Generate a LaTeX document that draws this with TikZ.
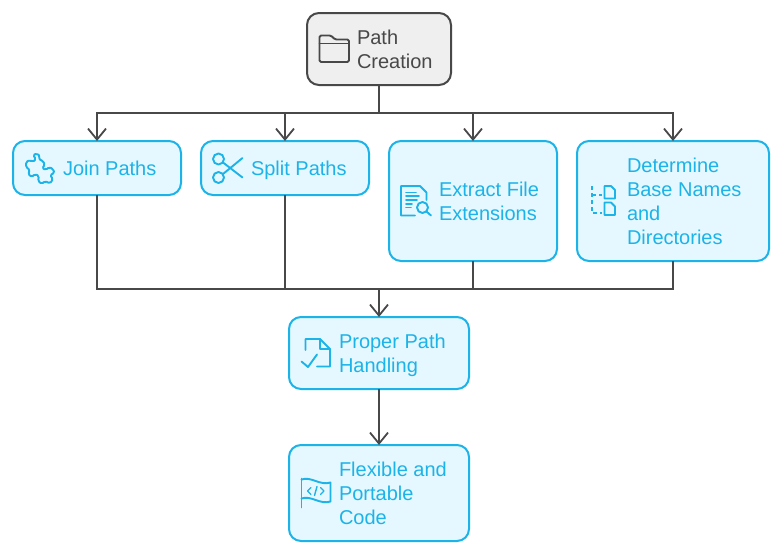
\documentclass[tikz,border=0pt]{standalone}
\usepackage{fontspec}
\setmainfont{Liberation Sans}
\usetikzlibrary{arrows.meta,positioning}
\definecolor{skyline}{HTML}{1CB3E8}
\definecolor{skyfill}{HTML}{E5F8FF}
\definecolor{rootline}{HTML}{484848}
\definecolor{rootfill}{HTML}{EFEFEF}

\begin{document}
\begin{tikzpicture}[x=1pt,y=-1pt,
		every node/.style={inner sep=0pt,outer sep=0pt},
		stepbox/.style={draw=skyline,fill=skyfill,line width=2pt,rounded corners=12pt},
		rootbox/.style={draw=rootline,fill=rootfill,line width=2pt,rounded corners=12pt},
		steptext/.style={text=skyline,align=left,yshift=-3.5pt,font=\fontsize{20}{24}\selectfont,execute at begin node=\strut,execute at end node=\strut},
		roottext/.style={text=rootline,align=left,yshift=-3.5pt,font=\fontsize{20}{24}\selectfont,execute at begin node=\strut,execute at end node=\strut},
		conn/.style={draw=rootline,line width=2pt},
		arr/.style={conn,-{Straight Barb[length=11pt,width=18pt,line width=1.8pt]}},
		icon/.style={draw=skyline,line width=1.9pt,line join=round,line cap=round},
		rooticon/.style={draw=rootline,line width=1.9pt,line join=round,line cap=round}]
		  \useasboundingbox (0,0) rectangle (782,554);

		  \node[rootbox,minimum width=144pt,minimum height=72pt] (PathCreation) at (379,49) {};
		  \node[stepbox,minimum width=168pt,minimum height=54pt] (JoinPaths)    at (97,168) {};
		  \node[stepbox,minimum width=168pt,minimum height=54pt] (SplitPaths)   at (285,168) {};
		  \node[stepbox,minimum width=168pt,minimum height=120pt](ExtractExt)   at (473,201) {};
		  \node[stepbox,minimum width=192pt,minimum height=120pt](BaseNames)    at (673,201) {};
		  \node[stepbox,minimum width=180pt,minimum height=72pt] (ProperPath)   at (379,353) {};
		  \node[stepbox,minimum width=180pt,minimum height=96pt] (Flexible)     at (379,493) {};

		  \node[roottext,right=50pt of PathCreation.west] (PathCreationText) {Path\\Creation};
		  \node[steptext,right=50pt of JoinPaths.west,yshift=1pt]  (JoinPathsText)  {Join Paths};
		  \node[steptext,right=50pt of SplitPaths.west,yshift=1pt] (SplitPathsText) {Split Paths};
		  \node[steptext,right=50pt of ExtractExt.west]   (ExtractExtText)   {Extract File\\Extensions};
		  \node[steptext,right=50pt of BaseNames.west]    (BaseNamesText)    {Determine\\Base Names\\and\\Directories};
		  \node[steptext,right=50pt of ProperPath.west]   (ProperPathText)   {Proper Path\\Handling};
		  \node[steptext,right=50pt of Flexible.west]     (FlexibleText)     {Flexible and\\Portable\\Code};

		  \coordinate (BusTop) at (379,113);
		  \coordinate (BusLow) at (379,289);

		  \draw[conn] (PathCreation.south) -- (BusTop);
		  \draw[arr] (BusTop) -| (JoinPaths.north);
		  \draw[arr] (BusTop) -| (SplitPaths.north);
		  \draw[arr] (BusTop) -| (ExtractExt.north);
		  \draw[arr] (BusTop) -| (BaseNames.north);
		  \draw[conn] (JoinPaths.south) |- (BusLow);
		  \draw[conn] (SplitPaths.south) |- (BusLow);
		  \draw[conn] (ExtractExt.south) |- (BusLow);
		  \draw[conn] (BaseNames.south) |- (BusLow);
		  \draw[arr] (BusLow) -- (ProperPath.north);
		  \draw[arr] (ProperPath.south) -- (Flexible.north);

		  % folder
		  \draw[rooticon,rounded corners=1.5pt] (319.5,62) -- (319.5,35.5) -- (331,35.5) -- (335,39.5) -- (349,39.5) -- (349,62) -- cycle;
		  \draw[rooticon] (319.5,43.5) -- (349,43.5);

		  % puzzle piece
		  \draw[icon,rounded corners=1.6pt] (33,155) -- (37,153.5) -- (40,156) -- (38.5,159) -- (43,161) -- (45,165) -- (42,168)
		    -- (46,170) -- (49,167) -- (53,169) -- (54.5,173) -- (50,175) -- (53,179) -- (50,183.5) -- (45,181)
		    -- (42,184) -- (38,181) -- (39,176) -- (35,174) -- (32,177) -- (28,174) -- (30,170) -- (26,167)
		    -- (26,162) -- (30,160) -- (33,162) -- (36,159) -- cycle;

		  % scissors
		  \draw[icon] (218.5,159) circle (5.5pt) (218.5,177.5) circle (5.5pt);
		  \draw[icon] (223,162.5) -- (242.5,177.5) (223,174) -- (242.5,158);

		  % document with lens
		  \draw[icon] (415,215.5) -- (401,215.5) -- (401,186) -- (420,186) -- (426.5,192.5) -- (426.5,200);
		  \draw[icon] (406,192.5) -- (416,192.5) (406,196) -- (419,196) (406,200) -- (417,200) (406,204) -- (412,204) (406,207.5) -- (411,207.5);
		  \draw[icon] (422.5,207.5) circle (5.5pt);
		  \draw[icon] (426.5,211.5) -- (431,215.5);

		  % dashed tree with two files
		  \draw[icon,line cap=butt,dash pattern=on 4pt off 3pt] (592,186) -- (592,213) -- (602,213);
		  \draw[icon,line cap=butt,dash pattern=on 4pt off 3pt] (592,195) -- (602,195);
		  \draw[icon] (604.5,186) -- (611,186) -- (615,190) -- (615,198.5) -- (604.5,198.5) -- cycle;
		  \draw[icon] (604.5,202.5) -- (611,202.5) -- (615,206.5) -- (615,215) -- (604.5,215) -- cycle;

		  % page with check mark
		  \draw[icon] (305.5,350) -- (305.5,339) -- (320,339) -- (330,349) -- (330,366.5) -- (317,366.5);
		  \draw[icon] (320,339) -- (320,349) -- (330,349);
		  \draw[icon] (301.5,361.5) -- (308,367) -- (317,354.5);

		  % flag with code sign
		  \draw[icon] (301.5,478.5) -- (301.5,507.5);
		  \draw[icon] (301.5,479.5) .. controls (311,476) and (320,486) .. (330.5,482.5) -- (330.5,501.5)
		    .. controls (320,505) and (311,495) .. (301.5,498.5);
		  \draw[icon,line width=1.4pt] (311,487.5) -- (307.5,491) -- (311,494.5) (320.5,487.5) -- (324,491) -- (320.5,494.5) (317,486.5) -- (314.5,495.5);
\end{tikzpicture}
\end{document}
